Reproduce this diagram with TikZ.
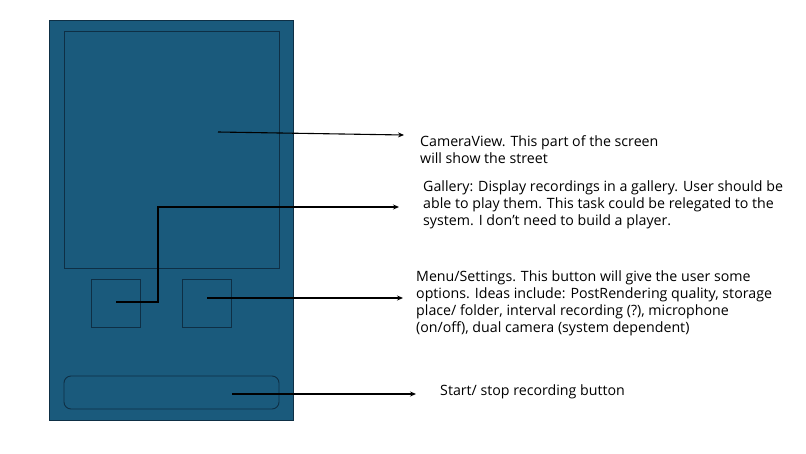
\documentclass[tikz,border=0pt]{standalone}
\usepackage{fontspec}
\setmainfont{Open Sans}
\usetikzlibrary{arrows.meta}
\definecolor{phone}{HTML}{1A5A7C}
\definecolor{edge}{HTML}{0E2F45}
\begin{document}
\begin{tikzpicture}[x=1pt,y=-1pt,
  part/.style={draw=edge,line width=0.9pt},
  arr/.style={draw=black,line width=1.1pt,-{Stealth[length=6pt,width=5pt]}},
  lab/.style={anchor=north west,inner sep=0pt,align=left,font=\fontsize{14.2}{17}\selectfont}]
\useasboundingbox (0,0) rectangle (806,453);
\fill[white] (0,0) rectangle (806,453);
\draw[part,fill=phone] (49,20) rectangle (293,420);
\draw[part] (64,31) rectangle (279,268);
\draw[part] (91,279) rectangle (140,327);
\draw[part] (182,279) rectangle (231,327);
\draw[part,rounded corners=7pt] (64,376) rectangle (279,409);
\coordinate (c1) at (218,132);
\coordinate (c2) at (116,302);
\coordinate (c3) at (207,298);
\coordinate (c4) at (232,394);
\coordinate (e1) at (404,135);
\coordinate (e2) at (399,207);
\coordinate (e3) at (403,298);
\coordinate (e4) at (416,394);
\draw[arr] (c1) -- (e1);
\draw[arr] (c2) -- (158,302) -- (158,207) -- (e2);
\draw[arr] (c3) -- (e3);
\draw[arr] (c4) -- (e4);
\node[lab] (t1) at (420,135) {CameraView. This part of the screen\\will show the street};
\node[lab] (t2) at (423,181) {Gallery: Display recordings in a gallery. User should be\\able to play them. This task could be relegated to the\\system. I don’t need to build a player.};
\node[lab] (t3) at (416,271) {Menu/Settings. This button will give the user some\\options. Ideas include: PostRendering quality, storage\\place/ folder, interval recording (?), microphone\\(on/off), dual camera (system dependent)};
\node[lab] (t4) at (440,385) {Start/ stop recording button};
\end{tikzpicture}
\end{document}
